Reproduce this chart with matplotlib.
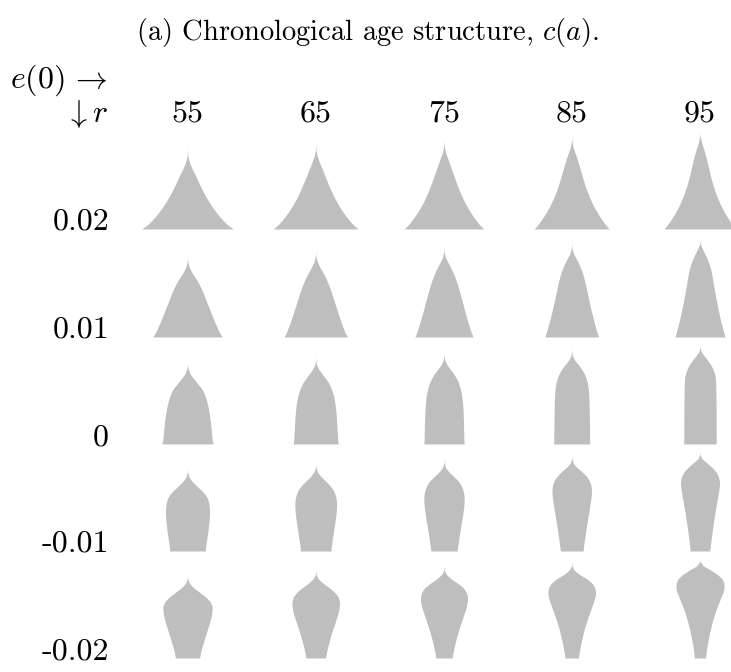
import numpy as np
import matplotlib
matplotlib.use("Agg")
import matplotlib.pyplot as plt

plt.rcParams["mathtext.fontset"] = "cm"
plt.rcParams["font.family"] = "cmr10"

ages = np.arange(0, 120, 5)
e0_values = [55, 65, 75, 85, 95]
r_values = [0.02, 0.01, 0.0, -0.01, -0.02]
r_labels = ["0.02", "0.01", "0", "-0.01", "-0.02"]

surv_55 = [1.0, .96, .945, .93, .913, .895, .873, .848, .818, .782, .738, .682,
           .61, .50, .36, .22, .10, .03, .003, 0, 0, 0, 0, 0]
surv_65 = [1.0, .975, .965, .955, .945, .933, .92, .905, .886, .862, .832, .79,
           .735, .66, .565, .43, .28, .14, .045, .006, 0, 0, 0, 0]
surv_75 = [1.0, .985, .98, .976, .971, .965, .958, .95, .94, .925, .905, .878,
           .84, .785, .71, .61, .48, .31, .15, .045, .006, 0, 0, 0]
surv_85 = [1.0, .995, .993, .991, .989, .986, .983, .979, .974, .968, .96, .948,
           .932, .905, .865, .80, .70, .56, .38, .18, .05, .005, 0, 0]
surv_95 = [1.0, .998, .997, .996, .995, .994, .993, .992, .99, .988, .985, .982,
           .978, .972, .962, .945, .89, .80, .67, .48, .27, .07, .003, 0]
survival = [surv_55, surv_65, surv_75, surv_85, surv_95]

# layout, in pixels of the 731x672 canvas
FIG_W, FIG_H = 731, 672
COL_X = [187.5, 315.7, 444, 571.7, 700]
ROW_BASE = [229, 337, 444, 551, 658]
PANEL_W, PANEL_H = 124, 101
WIDTH_SCALE = 3000  # px of full width per unit of density
FILL = "#bebebe"
LABEL_SIZE = 23

fig = plt.figure(figsize=(FIG_W / 100, FIG_H / 100), dpi=100)


def px(x, y):
    return x / FIG_W, 1 - y / FIG_H


for i, r in enumerate(r_values):
    for j, e0 in enumerate(e0_values):
        l = np.array(survival[j])
        c = np.exp(-r * ages) * l
        c = c / np.trapezoid(c, ages)
        left, bottom = px(COL_X[j] - PANEL_W / 2, ROW_BASE[i])
        ax = fig.add_axes([left, bottom, PANEL_W / FIG_W, PANEL_H / FIG_H])
        half = PANEL_W / 2 / WIDTH_SCALE
        ax.fill_betweenx(ages, -c / 2, c / 2, color=FILL, lw=0)
        ax.set_xlim(-half, half)
        ax.set_ylim(0, 115)
        ax.axis("off")

    fig.text(*px(109, ROW_BASE[i] + 1), r_labels[i], ha="right", va="baseline",
             fontsize=LABEL_SIZE)

for j, e0 in enumerate(e0_values):
    fig.text(*px(COL_X[j], 121), str(e0), ha="center", va="baseline",
             fontsize=LABEL_SIZE)

fig.text(*px(108, 122), r"$\downarrow r$", ha="right", va="baseline",
         fontsize=LABEL_SIZE)
fig.text(*px(108, 88), r"$e(0)\,\rightarrow$", ha="right", va="baseline",
         fontsize=LABEL_SIZE)
fig.text(*px(368, 40), r"(a) Chronological age structure, $c(a)$.", ha="center",
         va="baseline", fontsize=20.5)

fig.savefig("out.png", dpi=100)
